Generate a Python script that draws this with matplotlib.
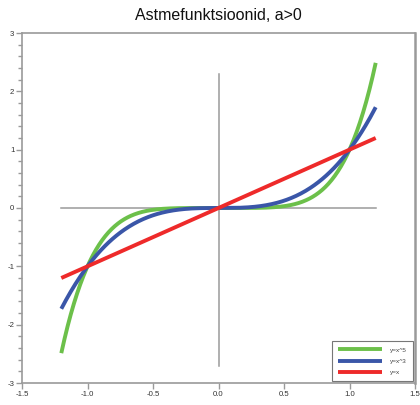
import numpy as np
import matplotlib
matplotlib.use("Agg")
import matplotlib.pyplot as plt
from matplotlib.ticker import MultipleLocator, FormatStrFormatter

plt.rcParams['font.family'] = ['Liberation Sans', 'DejaVu Sans']

# Power functions y = x^a, a > 0
x_range = (-1.2, 1.2)
exponents = [5, 3, 1]
labels = ["y=x^5", "y=x^3", "y=x"]
colors = ["#6cc04a", "#3a56a8", "#ee2a2a"]

x_ticks = [-1.5, -1.0, -0.5, 0.0, 0.5, 1.0, 1.5]
y_ticks = [-3, -2, -1, 0, 1, 2, 3]

fig = plt.figure(figsize=(4.2, 4.05), dpi=100)
ax = fig.add_axes([22 / 420, 1 - 383 / 405, 393 / 420, 350 / 405])

gray = "#9a9a9a"
# coordinate cross
ax.plot([-1.2, 1.2], [0, 0], color=gray, lw=1.1, zorder=1)
ax.plot([0, 0], [-2.7, 2.3], color=gray, lw=1.1, zorder=1)

xs = np.linspace(x_range[0], x_range[1], 400)
for a, lab, c in zip(exponents, labels, colors):
    ax.plot(xs, xs ** a, color=c, lw=2.8, label=lab, zorder=2,
            solid_capstyle='butt')

ax.set_xlim(-1.5, 1.5)
ax.set_ylim(-3, 3)
ax.set_xticks(x_ticks)
ax.set_yticks(y_ticks)
ax.xaxis.set_major_formatter(FormatStrFormatter('%.1f'))
ax.yaxis.set_major_formatter(FormatStrFormatter('%d'))
ax.yaxis.set_minor_locator(MultipleLocator(0.2))

for side in ["left", "bottom", "top"]:
    ax.spines[side].set_color(gray)
    ax.spines[side].set_linewidth(1.2)
ax.spines["right"].set_color(gray)
ax.spines["right"].set_linewidth(1.8)

ax.tick_params(axis='both', which='major', direction='out', length=4,
               width=1.0, color=gray, labelsize=5.6, labelcolor="#333333",
               pad=1.5)
ax.tick_params(axis='y', which='minor', direction='out', length=3,
               width=1.0, color=gray)
ax.tick_params(top=False, right=False)

ax.set_title("Astmefunktsioonid, a>0", fontsize=11.5, pad=9, color="#111111")

leg = ax.legend(loc='lower right', fontsize=4.6, frameon=True, fancybox=False,
                edgecolor="#555555", handlelength=7, handletextpad=1.2,
                borderpad=0.9, labelspacing=0.9, borderaxespad=0.35)
leg.get_frame().set_linewidth(0.8)
for t in leg.get_texts():
    t.set_color("#444444")

fig.savefig("out.png", dpi=100)
